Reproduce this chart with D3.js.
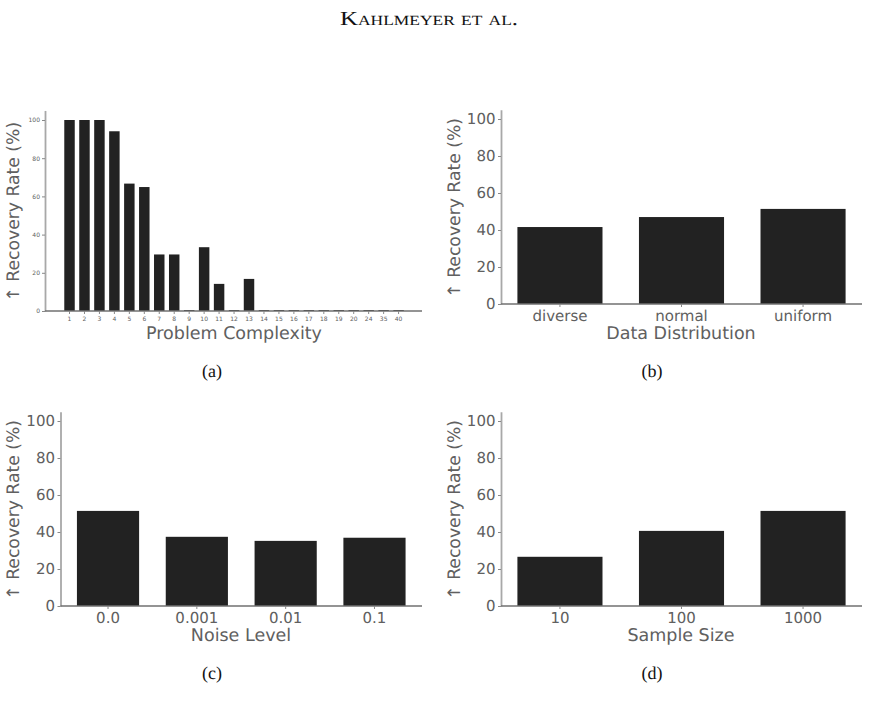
<!DOCTYPE html>
<html><head><meta charset="utf-8">
<script src="https://cdn.jsdelivr.net/npm/d3@7"></script>
<style>body{margin:0;background:#fff}</style>
</head><body>
<script>
// ---- data ----
const complexityLabels = ["1","2","3","4","5","6","7","8","9","10","11","12","13","14","15","16","17","18","19","20","24","35","40"];
const complexityValues = [100,100,100,94.1,66.7,64.9,29.6,29.6,0,33.4,14.2,0,16.8,0,0,0,0,0,0,0,0,0,0];
const distCats = ["diverse","normal","uniform"];
const distValues = [41.6,47.0,51.4];
const noiseCats = ["0.0","0.001","0.01","0.1"];
const noiseValues = [51.4,37.4,35.2,36.9];
const sampleCats = ["10","100","1000"];
const sampleValues = [26.6,40.6,51.4];
const yTicks = [0,20,40,60,80,100];
const yLabel = "\u2191 Recovery Rate (%)";

const W = 869, H = 710;
const svg = d3.select("body").append("svg").attr("width", W).attr("height", H)
  .style("font-family", "'DejaVu Sans', sans-serif")
  .style("text-rendering", "geometricPrecision");

const textCol = "#606060";

svg.append("text").attr("x", 429).attr("y", 25).attr("text-anchor", "middle")
  .style("font-family", "'Liberation Serif', 'DejaVu Serif', serif")
  .style("font-variant", "small-caps").style("font-size", "20px").attr("fill", "#111")
  .attr("textLength", 178).attr("lengthAdjust", "spacingAndGlyphs")
  .text("Kahlmeyer et al.");

function panel(opts) {
  const {cats, vals, x0, x1, bx0, bx1, y0, y100, tickFont, xLabel, xLabelX, xLabelY, yLabelX, tag, tagX, tagY, tickPad} = opts;
  const n = cats.length;
  const x = d3.scaleBand().domain(cats).range([bx0 ?? x0, bx1 ?? x1])
    .paddingInner(0.3).paddingOuter(0.05 * (n - 0.3));
  const y = d3.scaleLinear().domain([0, 100]).range([y0, y100]);
  const yTop = y(105);
  const g = svg.append("g");
  g.selectAll("rect").data(vals).enter().append("rect")
    .attr("x", (d, i) => x(cats[i]))
    .attr("width", x.bandwidth())
    .attr("y", d => Math.min(y(d), y0 - 1))
    .attr("height", d => Math.max(y0 - y(d), 1))
    .attr("fill", "#222222");

  const yAx = d3.scaleLinear().domain([0, 105]).range([y0, yTop]);
  const ya = g.append("g").attr("transform", `translate(${x0},0)`)
    .call(d3.axisLeft(yAx).tickValues(yTicks).tickSize(3).tickPadding(tickPad).tickSizeOuter(0));
  ya.select(".domain").attr("stroke", "#a8a8a8").attr("stroke-width", 1.8);
  ya.selectAll(".tick line").attr("stroke", "#888");
  ya.selectAll(".tick text").attr("fill", textCol).style("font-size", tickFont + "px")
    .style("font-family", "'DejaVu Sans', sans-serif");

  const xa = g.append("g").attr("transform", `translate(0,${y0})`)
    .call(d3.axisBottom(x).tickSize(3).tickPadding(tickPad + 1).tickSizeOuter(0));
  xa.select(".domain").attr("d", `M${x0},0H${x1}`).attr("stroke", "#707070").attr("stroke-width", 1.3);
  xa.selectAll(".tick line").attr("stroke", "#888");
  xa.selectAll(".tick text").attr("fill", textCol).style("font-size", tickFont + "px")
    .style("font-family", "'DejaVu Sans', sans-serif");

  g.append("text").attr("x", xLabelX).attr("y", xLabelY).attr("text-anchor", "middle")
    .attr("dominant-baseline", "central").attr("fill", textCol).style("font-size", "17.5px")
    .text(xLabel);
  const yc = (y0 + yTop) / 2;
  g.append("text").attr("transform", `translate(${yLabelX},${yc + 1}) rotate(-90)`)
    .attr("text-anchor", "middle").attr("dominant-baseline", "central")
    .attr("fill", textCol).style("font-size", "17.2px").text(yLabel);

  svg.append("text").attr("x", tagX).attr("y", tagY).attr("text-anchor", "middle")
    .attr("dominant-baseline", "central")
    .style("font-family", "'Liberation Serif', 'DejaVu Serif', serif")
    .style("font-size", "18px").attr("fill", "#111").text(tag);
}

panel({cats: complexityLabels, vals: complexityValues, x0: 45, x1: 422, bx0: 47.3, bx1: 420.8, y0: 311, y100: 120,
  tickFont: 6, tickPad: 2, xLabel: "Problem Complexity", xLabelX: 234, xLabelY: 334,
  yLabelX: 14, tag: "(a)", tagX: 212, tagY: 371});
panel({cats: distCats, vals: distValues, x0: 501, x1: 862, y0: 304, y100: 119,
  tickFont: 15, tickPad: 2.5, xLabel: "Data Distribution", xLabelX: 681, xLabelY: 334,
  yLabelX: 455, tag: "(b)", tagX: 652, tagY: 371});
panel({cats: noiseCats, vals: noiseValues, x0: 60.5, x1: 422, y0: 606, y100: 421,
  tickFont: 15, tickPad: 2.5, xLabel: "Noise Level", xLabelX: 241, xLabelY: 636,
  yLabelX: 14, tag: "(c)", tagX: 212, tagY: 673});
panel({cats: sampleCats, vals: sampleValues, x0: 501, x1: 862, y0: 606, y100: 421,
  tickFont: 15, tickPad: 2.5, xLabel: "Sample Size", xLabelX: 681, xLabelY: 636,
  yLabelX: 455, tag: "(d)", tagX: 652, tagY: 673});
</script>
</body></html>
